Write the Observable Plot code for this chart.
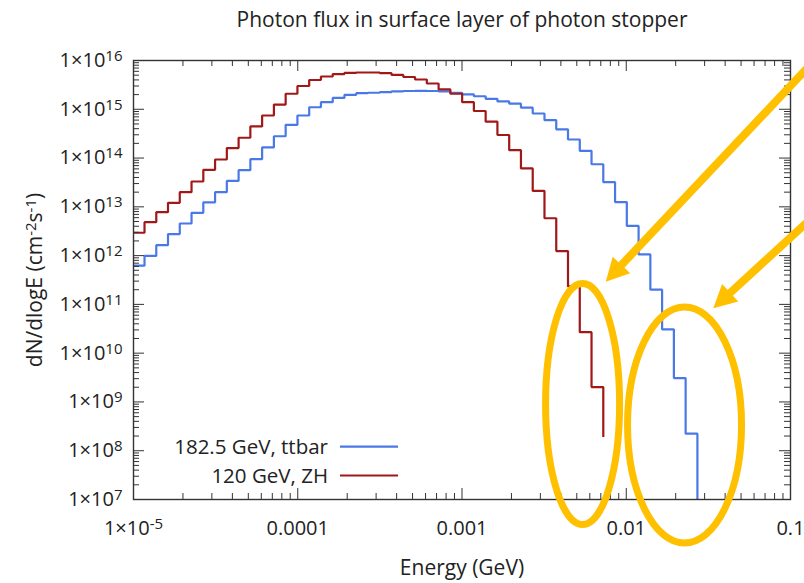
<!DOCTYPE html>
<html><head><meta charset="utf-8">
<script src="https://cdn.jsdelivr.net/npm/d3@7"></script>
<script src="https://cdn.jsdelivr.net/npm/@observablehq/plot@0.6"></script>
<style>
html,body{margin:0;padding:0;background:#fff;}
#chart{width:804px;height:583px;overflow:hidden;}
</style></head><body><div id="chart"></div>
<script>
const title = "Photon flux in surface layer of photon stopper";
const xLabel = "Energy (GeV)";
const yLabel = "dN/dlogE (cm^{-2}s^{-1})";
const seriesNames = ["182.5 GeV, ttbar", "120 GeV, ZH"];
const seriesColors = ["#4a78e6", "#a01818"];

// step positions (GeV): each value holds from this energy to the next
const energy = [1.0e-5, 1.167e-5, 1.376e-5, 1.622e-5, 1.913e-5, 2.256e-5, 2.661e-5, 3.138e-5, 3.700e-5, 4.364e-5,
  5.146e-5, 6.069e-5, 7.157e-5, 8.440e-5, 9.954e-5, 1.174e-4, 1.384e-4, 1.633e-4, 1.925e-4, 2.271e-4,
  2.678e-4, 3.158e-4, 3.724e-4, 4.392e-4, 5.179e-4, 6.108e-4, 7.203e-4, 8.494e-4, 1.002e-3, 1.181e-3,
  1.393e-3, 1.643e-3, 1.938e-3, 2.285e-3, 2.695e-3, 3.178e-3, 3.748e-3, 4.419e-3, 5.212e-3, 6.146e-3,
  7.248e-3, 8.548e-3, 1.008e-2, 1.189e-2, 1.402e-2, 1.653e-2, 1.950e-2, 2.299e-2, 2.712e-2];

const fluxTtbar = [6.21e11, 9.86e11, 1.64e12, 2.76e12, 4.55e12, 7.53e12, 1.24e13, 2.00e13, 3.40e13, 5.65e13,
  9.48e13, 1.65e14, 2.80e14, 4.81e14, 7.46e14, 1.10e15, 1.40e15, 1.71e15, 1.98e15, 2.14e15,
  2.18e15, 2.24e15, 2.32e15, 2.37e15, 2.39e15, 2.37e15, 2.32e15, 2.18e15, 2.03e15, 1.85e15,
  1.64e15, 1.45e15, 1.30e15, 1.08e15, 8.20e14, 5.98e14, 3.89e14, 2.40e14, 1.41e14, 7.46e13,
  3.21e13, 1.25e13, 4.06e12, 1.06e12, 2.00e11, 3.08e10, 3.09e9, 2.24e8, 1.0e7];

const fluxZH = [2.94e12, 4.85e12, 7.78e12, 1.21e13, 2.00e13, 3.31e13, 5.75e13, 9.35e13, 1.60e14, 2.61e14,
  4.45e14, 7.46e14, 1.25e15, 2.08e15, 3.00e15, 3.98e15, 4.70e15, 5.28e15, 5.60e15, 5.68e15,
  5.68e15, 5.50e15, 5.05e15, 4.59e15, 4.08e15, 3.38e15, 2.55e15, 2.08e15, 1.40e15, 9.23e14,
  5.57e14, 2.97e14, 1.45e14, 6.12e13, 2.12e13, 5.83e12, 1.24e12, 2.34e11, 2.70e10, 2.02e9, 1.91e8];

const xTicks = [1e-5, 1e-4, 1e-3, 1e-2, 1e-1];
const xTickLabels = ["1×10^{-5}", "0.0001", "0.001", "0.01", "0.1"];
const yTicks = [1e7, 1e8, 1e9, 1e10, 1e11, 1e12, 1e13, 1e14, 1e15, 1e16];
const yTickLabels = ["1×10^{7}", "1×10^{8}", "1×10^{9}", "1×10^{10}", "1×10^{11}", "1×10^{12}", "1×10^{13}", "1×10^{14}", "1×10^{15}", "1×10^{16}"];

// annotation anchors in data units (energy, flux)
const ellipseCenters = [[5.46e-3, 8.87e8], [2.28e-2, 3.29e8]];
const arrowTips = [[7.55e-3, 2.85e11], [3.41e-2, 8.13e10]];
const arrowTails = [[0.1752, 2.13e16], [0.1752, 1.27e13]];

const minor = ticks => {
  const out = [];
  for (let i = 0; i < ticks.length - 1; i++) for (let k = 2; k <= 9; k++) out.push(k * ticks[i]);
  return out;
};
const xMinor = minor(xTicks), yMinor = minor(yTicks);

const ttbar = fluxTtbar.map((f, i) => ({energy: energy[i], flux: f}));
const zh = fluxZH.map((f, i) => ({energy: energy[i], flux: f}));

const W = 804, H = 583, mL = 133, mR = 14, mT = 60, mB = 84;
const pw = W - mL - mR, ph = H - mT - mB;
const MAJ = 11, MIN = 6;
const axisColor = "#333";

const plot = Plot.plot({
  width: W, height: H,
  marginLeft: mL, marginRight: mR, marginTop: mT, marginBottom: mB,
  style: {fontFamily: "'Open Sans', sans-serif", fontSize: "20px", color: "#222", background: "white"},
  x: {type: "log", domain: [1e-5, 0.1], axis: null},
  y: {type: "log", domain: [1e7, 1e16], axis: null},
  marks: [
    Plot.line(ttbar, {x: "energy", y: "flux", curve: "step-after", stroke: seriesColors[0], strokeWidth: 2.2, strokeLinejoin: "miter", strokeLinecap: "butt"}),
    Plot.line(zh, {x: "energy", y: "flux", curve: "step-after", stroke: seriesColors[1], strokeWidth: 2.2, strokeLinejoin: "miter", strokeLinecap: "butt"}),
    Plot.frame({stroke: axisColor, strokeWidth: 1.4}),
    Plot.tickX(xTicks, {x: d => d, insetTop: ph - MAJ, stroke: axisColor}),
    Plot.tickX(xTicks, {x: d => d, insetBottom: ph - MAJ, stroke: axisColor}),
    Plot.tickX(xMinor, {x: d => d, insetTop: ph - MIN, stroke: axisColor}),
    Plot.tickX(xMinor, {x: d => d, insetBottom: ph - MIN, stroke: axisColor}),
    Plot.tickY(yTicks, {y: d => d, insetRight: pw - MAJ, stroke: axisColor}),
    Plot.tickY(yTicks, {y: d => d, insetLeft: pw - MAJ, stroke: axisColor}),
    Plot.tickY(yMinor, {y: d => d, insetRight: pw - MIN, stroke: axisColor}),
    Plot.tickY(yMinor, {y: d => d, insetLeft: pw - MIN, stroke: axisColor}),
    Plot.text(xTicks, {x: d => d, text: (d, i) => xTickLabels[i], frameAnchor: "bottom", lineAnchor: "top", dy: 21, fill: "#222"}),
    Plot.text(yTicks, {y: d => d, text: (d, i) => yTickLabels[i], frameAnchor: "left", textAnchor: "end", lineAnchor: "middle", dx: -11, fill: "#222"}),
    Plot.text([title], {text: d => d, frameAnchor: "top", textAnchor: "middle", lineAnchor: "middle", dy: -40, fontSize: 21, fill: "#222"}),
    Plot.text([xLabel], {text: d => d, frameAnchor: "bottom", textAnchor: "middle", lineAnchor: "middle", dy: 69, fontSize: 21, fill: "#222"}),
    Plot.text([yLabel], {text: d => d, frameAnchor: "left", textAnchor: "middle", lineAnchor: "middle", rotate: -90, dx: -98, fontSize: 21, fill: "#222"})
  ]
});

const NS = "http://www.w3.org/2000/svg";
function supify(el) {
  const s = el.textContent;
  if (!s.includes("^{")) return;
  el.textContent = "";
  const parts = s.split(/\^\{([^}]*)\}/);
  let raised = false;
  parts.forEach((p, i) => {
    if (!p) return;
    const t = document.createElementNS(NS, "tspan");
    if (i % 2 === 0) {
      if (raised) { t.setAttribute("dy", "6"); raised = false; }
    } else {
      t.setAttribute("dy", "-6");
      t.setAttribute("font-size", "15");
      raised = true;
    }
    t.textContent = p;
    el.appendChild(t);
  });
}
d3.select(plot).selectAll("text").each(function() { supify(this); });

const svg = d3.select(plot);
const sx = plot.scale("x"), sy = plot.scale("y");

// legend
const leg = svg.append("g").attr("font-size", 20.5).attr("fill", "#222");
seriesNames.forEach((name, i) => {
  const y = 446.7 + i * 28.8;
  leg.append("text").attr("x", 328).attr("y", y).attr("dy", "0.35em").attr("text-anchor", "end").text(name);
  leg.append("line").attr("x1", 340).attr("x2", 398).attr("y1", y).attr("y2", y)
    .attr("stroke", seriesColors[i]).attr("stroke-width", 2.2);
});

// annotations
const yellow = "#ffc000";
const ann = svg.append("g");
const radii = [[37, 120.5], [57, 118]];
ellipseCenters.forEach(([e, f], i) => {
  ann.append("ellipse").attr("cx", sx.apply(e)).attr("cy", sy.apply(f))
    .attr("rx", radii[i][0]).attr("ry", radii[i][1])
    .attr("fill", "none").attr("stroke", yellow).attr("stroke-width", 7);
});
arrowTips.forEach(([e, f], i) => {
  const tx = sx.apply(e), ty = sy.apply(f);
  const bx0 = sx.apply(arrowTails[i][0]), by0 = sy.apply(arrowTails[i][1]);
  const len = Math.hypot(bx0 - tx, by0 - ty);
  const ux = (bx0 - tx) / len, uy = (by0 - ty) / len;
  const L = 23, HW = 12;
  const bx = tx + ux * L, by = ty + uy * L;
  ann.append("line").attr("x1", bx0).attr("y1", by0).attr("x2", bx - ux * 2).attr("y2", by - uy * 2)
    .attr("stroke", yellow).attr("stroke-width", 8);
  ann.append("polygon").attr("points", [
    [tx, ty], [bx - uy * HW, by + ux * HW], [bx + uy * HW, by - ux * HW]
  ].map(p => p.join(",")).join(" ")).attr("fill", yellow);
});

document.getElementById("chart").appendChild(plot);
</script></body></html>
